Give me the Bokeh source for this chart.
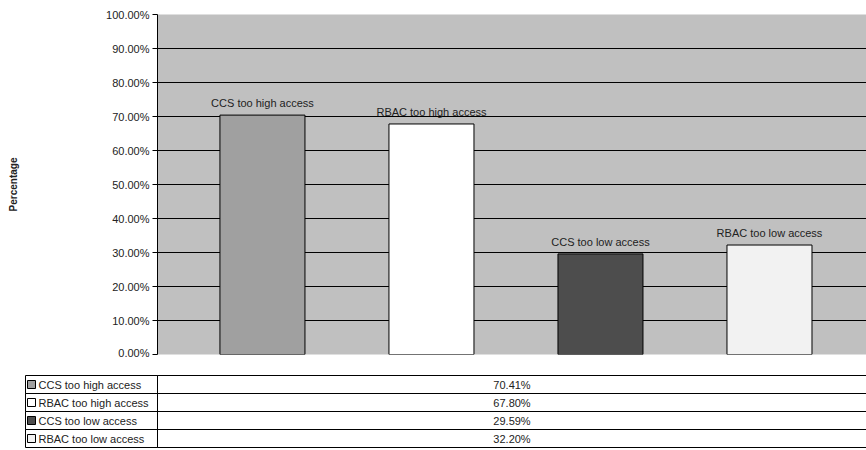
from bokeh.plotting import figure
from bokeh.models import Range1d, NumeralTickFormatter, SingleIntervalTicker, ColumnDataSource
from bokeh.layouts import column
from bokeh.core.properties import value
from bokeh.embed import file_html
from bokeh.resources import INLINE

# ---- data ----
series = ["CCS too high access", "RBAC too high access", "CCS too low access", "RBAC too low access"]
values = [0.7041, 0.6780, 0.2959, 0.3220]
value_labels = ["70.41%", "67.80%", "29.59%", "32.20%"]
colors = ["#A0A0A0", "#FFFFFF", "#4D4D4D", "#F2F2F2"]

FONT = "Liberation Sans"
pos = list(range(len(series)))

W = 866
LEFT = 157
# ---- chart ----
p = figure(width=W, height=358, x_range=Range1d(-0.621, 3.574), y_range=Range1d(0, 1),
           output_backend="svg", toolbar_location=None,
           min_border_left=LEFT, min_border_right=0, min_border_top=14, min_border_bottom=4)
p.frame_align = False
p.background_fill_color = "#C0C0C0"
p.border_fill_color = "white"
p.outline_line_color = None
p.xaxis.visible = False
p.xgrid.visible = False

p.yaxis.ticker = SingleIntervalTicker(interval=0.1, num_minor_ticks=0)
p.yaxis.formatter = NumeralTickFormatter(format="0.00%")
p.yaxis.major_label_text_font = FONT
p.yaxis.major_label_text_font_size = "11px"
p.yaxis.major_label_text_color = "#222222"
p.yaxis.major_tick_out = 5
p.yaxis.major_tick_in = 0
p.yaxis.major_label_standoff = 3
p.yaxis.axis_line_color = "black"
p.yaxis.major_tick_line_color = "black"
p.yaxis.minor_tick_line_color = None
p.yaxis.axis_label = "Percentage"
p.yaxis.axis_label_text_font = FONT
p.yaxis.axis_label_text_font_style = "bold"
p.yaxis.axis_label_text_font_size = "10px"
p.yaxis.axis_label_text_color = "#222222"
p.yaxis.axis_label_standoff = 84

p.ygrid.ticker = SingleIntervalTicker(interval=0.1, num_minor_ticks=0)
p.ygrid.grid_line_color = "black"
p.ygrid.grid_line_width = 1

src = ColumnDataSource(dict(x=pos, top=values, name=series, color=colors))
p.vbar(x="x", top="top", bottom=0, width=0.503, fill_color="color", line_color="black",
       line_width=1, source=src)
p.text(x="x", y="top", text="name", source=src, y_offset=-6, text_align="center",
       text_baseline="bottom", text_font=value(FONT), text_font_size="11px", text_color="#222222")

# ---- data table below ----
TH = 91
row_h = 18
top0 = 17
x_left, x_div, x_right = 25, 157, 866
t = figure(width=W, height=TH, x_range=Range1d(0, W), y_range=Range1d(TH, 0),
           output_backend="svg", toolbar_location=None, x_axis_type=None, y_axis_type=None,
           min_border=0, min_border_left=0, min_border_right=0, min_border_top=0, min_border_bottom=0)
t.frame_align = False
t.outline_line_color = None
t.xgrid.visible = False
t.ygrid.visible = False

tops = [top0 + i * row_h for i in pos]
bots = [top0 + (i + 1) * row_h for i in pos]
mids = [top0 + (i + 0.5) * row_h for i in pos]
t.quad(left=x_left, right=x_div, top=tops, bottom=bots, fill_color=None, line_color="black", line_width=1)
t.quad(left=x_div, right=x_right, top=tops, bottom=bots, fill_color=None, line_color="black", line_width=1)
t.rect(x=[x_left + 6] * 4, y=mids, width=8, height=8, fill_color=colors, line_color="black", line_width=1)
t.text(x=[x_left + 13] * 4, y=mids, text=series, text_align="left", text_baseline="middle",
       text_font=value(FONT), text_font_size="11px", text_color="#222222")
t.text(x=[(x_div + x_right) / 2] * 4, y=mids, text=value_labels, text_align="center",
       text_baseline="middle", text_font=value(FONT), text_font_size="11px", text_color="#222222")

layout = column(p, t, spacing=0)
open("out.html", "w").write(file_html(layout, INLINE))
